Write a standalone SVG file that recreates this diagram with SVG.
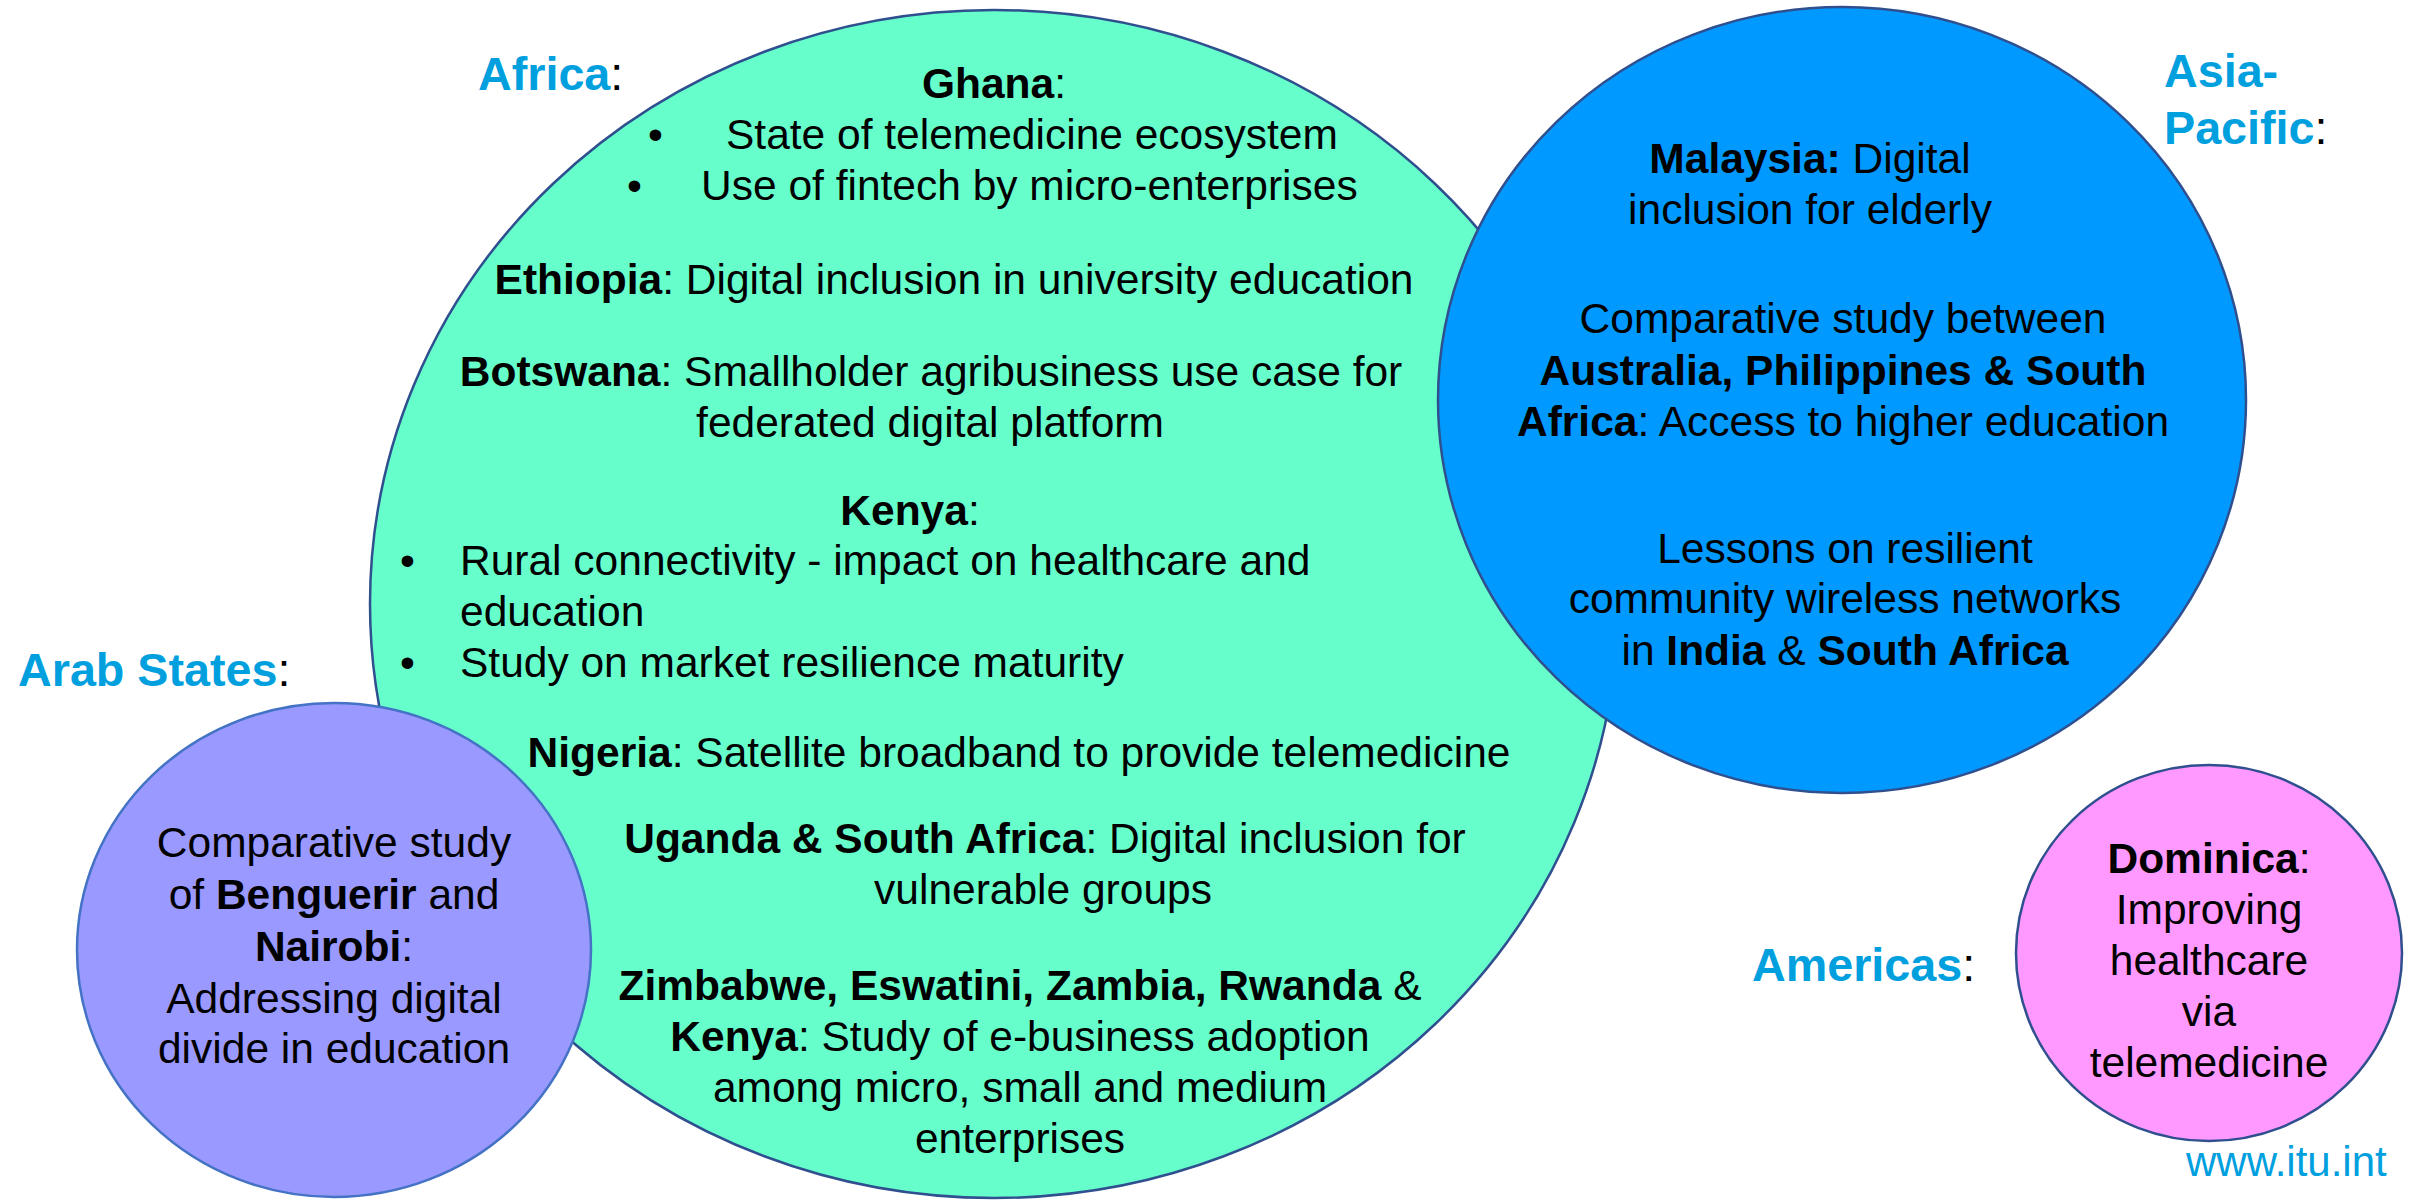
<svg xmlns="http://www.w3.org/2000/svg" width="2412" height="1200" viewBox="0 0 2412 1200">
<style>
text { font-family: "Liberation Sans", Arial, sans-serif; fill: #000; }
.t { font-size: 42.5px; }
.b { font-weight: bold; }
.m { text-anchor: middle; }
.lbl { font-size: 46.7px; font-weight: bold; fill: #00A0DF; }
.lbl .c { fill: #000; font-weight: normal; }
.url { font-size: 42px; fill: #00A0DF; }
.circle { stroke-width: 2.5; }
</style>
<rect width="2412" height="1200" fill="#FFFFFF"/>

<g id="africa">
  <ellipse class="circle" cx="994" cy="604" rx="624" ry="594" fill="#66FFCC" stroke="#2F4F8F"/>
  <text class="t m" x="994" y="98"><tspan class="b">Ghana</tspan>:</text>
  <text class="t" x="648" y="149">•</text>
  <text class="t" x="726" y="149">State of telemedicine ecosystem</text>
  <text class="t" x="627" y="200">•</text>
  <text class="t" x="701" y="200">Use of fintech by micro-enterprises</text>
  <text class="t m" x="954" y="294"><tspan class="b">Ethiopia</tspan>: Digital inclusion in university education</text>
  <text class="t m" x="931" y="386"><tspan class="b">Botswana</tspan>: Smallholder agribusiness use case for</text>
  <text class="t m" x="930" y="437">federated digital platform</text>
  <text class="t m" x="910" y="525"><tspan class="b">Kenya</tspan>:</text>
  <text class="t" x="400" y="575">•</text>
  <text class="t" x="460" y="575">Rural connectivity - impact on healthcare and</text>
  <text class="t" x="460" y="626">education</text>
  <text class="t" x="400" y="677">•</text>
  <text class="t" x="460" y="677">Study on market resilience maturity</text>
  <text class="t m" x="1019" y="767"><tspan class="b">Nigeria</tspan>: Satellite broadband to provide telemedicine</text>
  <text class="t m" x="1045" y="853"><tspan class="b">Uganda &amp; South Africa</tspan>: Digital inclusion for</text>
  <text class="t m" x="1043" y="904">vulnerable groups</text>
  <text class="t m" x="1020" y="1000"><tspan class="b">Zimbabwe, Eswatini, Zambia, Rwanda</tspan> &amp;</text>
  <text class="t m" x="1020" y="1051"><tspan class="b">Kenya</tspan>: Study of e-business adoption</text>
  <text class="t m" x="1020" y="1102">among micro, small and medium</text>
  <text class="t m" x="1020" y="1153">enterprises</text>
</g>

<g id="asia-pacific">
  <ellipse class="circle" cx="1842" cy="400" rx="404" ry="393" fill="#0099FF" stroke="#2F4F8F"/>
  <text class="t m" x="1810" y="173"><tspan class="b">Malaysia:</tspan> Digital</text>
  <text class="t m" x="1810" y="224">inclusion for elderly</text>
  <text class="t m" x="1843" y="333">Comparative study between</text>
  <text class="t m b" x="1843" y="385">Australia, Philippines &amp; South</text>
  <text class="t m" x="1843" y="436"><tspan class="b">Africa</tspan>: Access to higher education</text>
  <text class="t m" x="1845" y="563">Lessons on resilient</text>
  <text class="t m" x="1845" y="613">community wireless networks</text>
  <text class="t m" x="1845" y="665">in <tspan class="b">India</tspan> &amp; <tspan class="b">South Africa</tspan></text>
</g>

<g id="arab-states">
  <ellipse class="circle" cx="334" cy="950" rx="257" ry="247" fill="#9999FF" stroke="#4472C4"/>
  <text class="t m" x="334" y="857">Comparative study</text>
  <text class="t m" x="334" y="909">of <tspan class="b">Benguerir</tspan> and</text>
  <text class="t m" x="334" y="961"><tspan class="b">Nairobi</tspan>:</text>
  <text class="t m" x="334" y="1013">Addressing digital</text>
  <text class="t m" x="334" y="1063">divide in education</text>
</g>

<g id="americas">
  <ellipse class="circle" cx="2209" cy="953" rx="193" ry="188" fill="#FF99FF" stroke="#2F4F8F"/>
  <text class="t m" x="2209" y="873"><tspan class="b">Dominica</tspan>:</text>
  <text class="t m" x="2209" y="924">Improving</text>
  <text class="t m" x="2209" y="975">healthcare</text>
  <text class="t m" x="2209" y="1026">via</text>
  <text class="t m" x="2209" y="1077">telemedicine</text>
</g>

<g id="region-labels">
  <text class="lbl" x="478" y="90">Africa<tspan class="c">:</tspan></text>
  <text class="lbl" x="2164" y="87">Asia-</text>
  <text class="lbl" x="2164" y="144">Pacific<tspan class="c">:</tspan></text>
  <text class="lbl" x="18" y="686">Arab States<tspan class="c">:</tspan></text>
  <text class="lbl" x="1752" y="981">Americas<tspan class="c">:</tspan></text>
</g>

<g id="connectors"></g>

<g id="footer">
  <text class="url" x="2186" y="1176">www.itu.int</text>
</g>
</svg>
